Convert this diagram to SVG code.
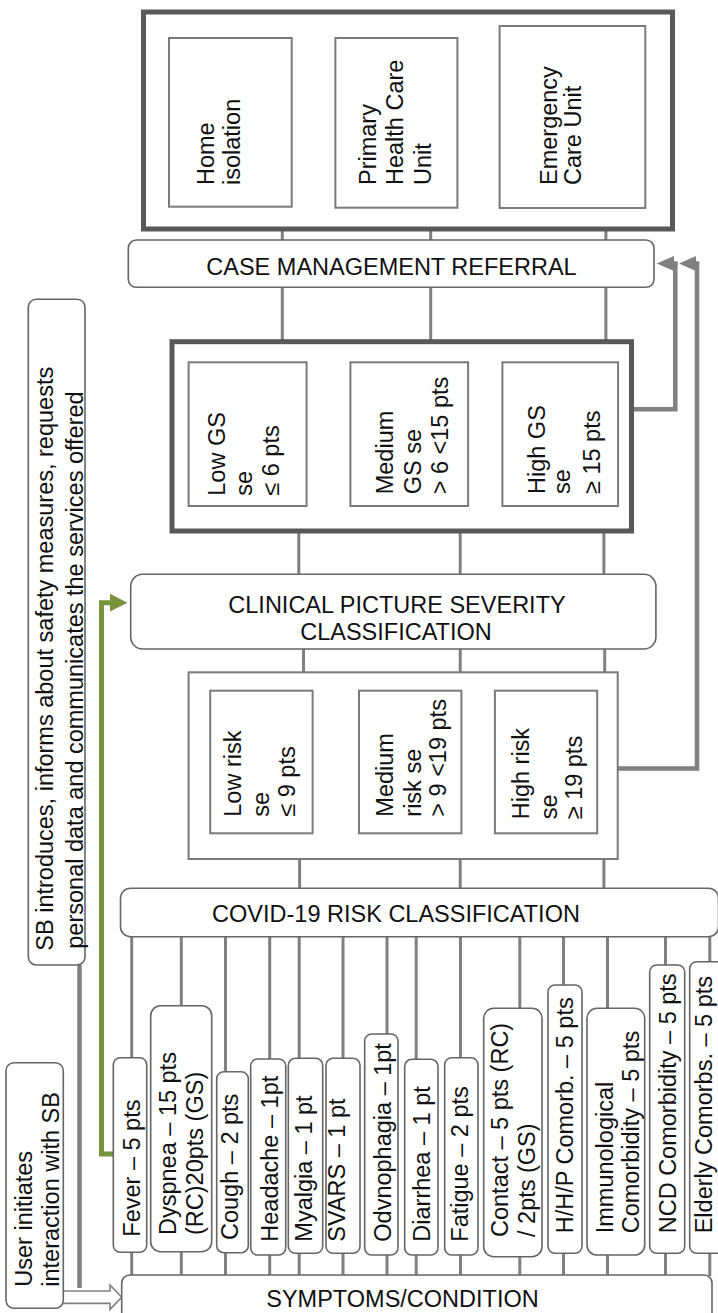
<svg xmlns="http://www.w3.org/2000/svg" width="718" height="1313" viewBox="0 0 718 1313">
<style>
text{font-family:"Liberation Sans",Arial,sans-serif;font-size:23.5px;fill:#111;}
.c{text-anchor:middle;}
.thick{fill:#fff;stroke:#595959;stroke-width:5;}
.inner{fill:#fff;stroke:#7a7a7a;stroke-width:2;}
.node{fill:#fff;stroke:#666;stroke-width:1.6;}
.ln{stroke:#808080;stroke-width:3;fill:none;}
.big{stroke:#808080;stroke-width:4.5;fill:none;}
.green{stroke:#77933C;stroke-width:5;fill:none;}
</style>
<rect width="718" height="1313" fill="#fff"/>
<g id="connectors">
  <path class="ln" d="M282.3 229V342M430.7 229V342M605.9 229V342"/>
  <path class="ln" d="M298.8 531V575M460.2 531V575M603.9 531V575"/>
  <path class="ln" d="M303.5 649V673M460.2 649V673M604.7 649V673"/>
  <path class="ln" d="M299.6 859V889M460.2 859V889M603.9 859V889"/>
  <path class="ln" d="M131.7 937V1276M181.3 937V1276M225.5 937V1276M269.7 937V1276M299.2 937V1276M343 937V1276M387 937V1276M416.2 937V1276M460.5 937V1276M519.8 937V1276M563.5 937V1276M607.5 937V1276M665.5 937V1276M709.8 937V1276"/>
  <path class="big" d="M631.5 409.3H675.3V262"/>
  <path class="big" d="M617.7 768.5H697V262"/>
  <path class="big" d="M670 263.5H677.5M692 263.5H699.2"/>
  <polygon points="656.7,263.5 674,256 674,271" fill="#808080"/>
  <polygon points="679,263.5 696,256 696,271" fill="#808080"/>
  <path class="green" d="M113.3 1154H101.5V602.7H112"/>
  <polygon points="127.5,602.7 110,593.8 110,611.6" fill="#77933C"/>
  <path class="big" d="M79.5 965V1288"/>
  <path d="M63.3 1291H110V1285L121.7 1297.2L110 1309.4V1303.4H63.3" fill="#fff" stroke="#808080" stroke-width="1.6"/>
</g>
<g id="referral-destinations">
  <rect class="thick" x="143.5" y="12" width="529" height="217"/>
  <rect class="inner" x="169" y="38" width="122.7" height="168.7"/>
  <rect class="inner" x="335.4" y="38" width="122" height="169.7"/>
  <rect class="inner" x="499.6" y="26" width="145.7" height="182"/>
  <text transform="translate(214,185) rotate(-90)"><tspan x="0" y="0">Home</tspan><tspan x="0" y="25.8">isolation</tspan></text>
  <text transform="translate(375.6,185) rotate(-90)"><tspan x="0" y="0">Primary</tspan><tspan x="0" y="27.4">Health Care</tspan><tspan x="0" y="55.1">Unit</tspan></text>
  <text transform="translate(556.7,185) rotate(-90)"><tspan x="0" y="0">Emergency</tspan><tspan x="0" y="24.4">Care Unit</tspan></text>
</g>
<g id="case-management">
  <rect class="node" x="128.3" y="240" width="525.7" height="47.3" rx="8"/>
  <text class="c" x="391.5" y="275">CASE MANAGEMENT REFERRAL</text>
</g>
<g id="gs-levels">
  <rect class="thick" x="172" y="341.7" width="459.5" height="189.3"/>
  <rect class="inner" x="188.6" y="362.3" width="118" height="143.7"/>
  <rect class="inner" x="350.4" y="362.3" width="117.7" height="143.7"/>
  <rect class="inner" x="502.4" y="362.3" width="115.7" height="143.7"/>
  <text transform="translate(225.2,495.7) rotate(-90)"><tspan x="0" y="0">Low GS</tspan><tspan x="0" y="26.4">se</tspan><tspan x="0" y="53.9">≤ 6 pts</tspan></text>
  <text transform="translate(393.3,494.3) rotate(-90)"><tspan x="0" y="0">Medium</tspan><tspan x="0" y="27.6">GS se</tspan><tspan x="0" y="55.1">&gt; 6 &lt;15 pts</tspan></text>
  <text transform="translate(544.9,494) rotate(-90)"><tspan x="0" y="0">High GS</tspan><tspan x="0" y="25.6">se</tspan><tspan x="0" y="55.1">≥ 15 pts</tspan></text>
</g>
<g id="clinical-severity">
  <rect class="node" x="130.7" y="574.3" width="525.2" height="74.7" rx="12"/>
  <text class="c" x="397" y="612.7">CLINICAL PICTURE SEVERITY</text>
  <text class="c" x="396" y="640">CLASSIFICATION</text>
</g>
<g id="risk-levels">
  <rect class="inner" x="188.6" y="672.3" width="429.1" height="186.7"/>
  <rect class="inner" x="210.2" y="690.7" width="102.4" height="142.6"/>
  <rect class="inner" x="359" y="690.7" width="102.4" height="142.6"/>
  <rect class="inner" x="494.9" y="690.7" width="102.3" height="142.6"/>
  <text transform="translate(240.9,816.7) rotate(-90)"><tspan x="0" y="0">Low risk</tspan><tspan x="0" y="28.4">se</tspan><tspan x="0" y="54">≤ 9 pts</tspan></text>
  <text transform="translate(393.3,816.7) rotate(-90)"><tspan x="0" y="0">Medium</tspan><tspan x="0" y="27.6">risk se</tspan><tspan x="0" y="53.2">&gt; 9 &lt;19 pts</tspan></text>
  <text transform="translate(529.1,819.3) rotate(-90)"><tspan x="0" y="0">High risk</tspan><tspan x="0" y="27.6">se</tspan><tspan x="0" y="53.2">≥ 19 pts</tspan></text>
</g>
<g id="covid-risk">
  <rect class="node" x="120.5" y="888.3" width="598" height="48.4" rx="10"/>
  <text class="c" x="396" y="921.7">COVID-19 RISK CLASSIFICATION</text>
</g>
<g id="sb-intro">
  <rect class="node" x="28.3" y="299.2" width="56.7" height="665.8" rx="8"/>
  <text transform="translate(53.4,950.7) rotate(-90)"><tspan x="0" y="0">SB introduces, informs about safety measures, requests</tspan><tspan x="2" y="30">personal data and communicates the services offered</tspan></text>
</g>
<g id="user-start">
  <rect class="node" x="6" y="1062.7" width="57.3" height="245.6" rx="8"/>
  <text transform="translate(31.7,1286.7) rotate(-90)"><tspan x="0" y="0">User initiates</tspan><tspan x="0" y="27.6">interaction with SB</tspan></text>
</g>
<g id="sym-fever">
  <rect class="node" x="113.3" y="1057.7" width="33.4" height="194.6" rx="7"/>
  <text transform="translate(140,1236.7) rotate(-90)">Fever – 5 pts</text>
</g>
<g id="sym-dyspnea">
  <rect class="node" x="150.7" y="1005.7" width="61" height="246" rx="10"/>
  <text transform="translate(175.7,1235) rotate(-90)"><tspan x="0" y="0">Dyspnea – 15 pts</tspan><tspan x="0" y="27.6">(RC)20pts (GS)</tspan></text>
</g>
<g id="sym-cough">
  <rect class="node" x="216.7" y="1071.7" width="31.6" height="181" rx="7"/>
  <text transform="translate(238.3,1240) rotate(-90)">Cough – 2 pts</text>
</g>
<g id="sym-headache">
  <rect class="node" x="250.7" y="1059" width="35" height="196" rx="7"/>
  <text transform="translate(278.3,1241.7) rotate(-90)">Headache – 1pt</text>
</g>
<g id="sym-myalgia">
  <rect class="node" x="288.3" y="1058.3" width="34.4" height="195" rx="7"/>
  <text transform="translate(311.7,1241.7) rotate(-90)">Myalgia  – 1 pt</text>
</g>
<g id="sym-svars">
  <rect class="node" x="326" y="1058.3" width="34" height="195" rx="7"/>
  <text transform="translate(345,1241.7) rotate(-90)">SVARS – 1 pt</text>
</g>
<g id="sym-odvnophagia">
  <rect class="node" x="364.7" y="1034" width="33.3" height="221" rx="7"/>
  <text transform="translate(391.3,1241.7) rotate(-90)">Odvnophagia – 1pt</text>
</g>
<g id="sym-diarrhea">
  <rect class="node" x="404.7" y="1059.3" width="33.3" height="195.7" rx="7"/>
  <text transform="translate(429.7,1241.7) rotate(-90)">Diarrhea – 1 pt</text>
</g>
<g id="sym-fatigue">
  <rect class="node" x="444.7" y="1057.7" width="33.3" height="197.3" rx="7"/>
  <text transform="translate(468,1241.7) rotate(-90)">Fatigue – 2 pts</text>
</g>
<g id="sym-contact">
  <rect class="node" x="483.7" y="1008.3" width="58.3" height="248.4" rx="10"/>
  <text transform="translate(508,1237) rotate(-90)"><tspan x="0" y="0">Contact – 5 pts (RC)</tspan><tspan x="0" y="27">/ 2pts (GS)</tspan></text>
</g>
<g id="sym-hhp">
  <rect class="node" x="548" y="985" width="34" height="268.3" rx="7"/>
  <text transform="translate(573,1233.3) rotate(-90)">H/H/P Comorb. – 5 pts</text>
</g>
<g id="sym-immunological">
  <rect class="node" x="587" y="1008.3" width="57.7" height="246.7" rx="10"/>
  <text transform="translate(613,1233.3) rotate(-90)"><tspan x="0" y="0">Immunological</tspan><tspan x="0" y="25.7">Comorbidity – 5 pts</tspan></text>
</g>
<g id="sym-ncd">
  <rect class="node" x="649.7" y="965" width="35" height="288.3" rx="7"/>
  <text transform="translate(676.3,1233.3) rotate(-90)">NCD Comorbidity – 5 pts</text>
</g>
<g id="sym-elderly">
  <rect class="node" x="689.7" y="961.7" width="35" height="291.6" rx="7"/>
  <text transform="translate(712.3,1233.3) rotate(-90)">Elderly Comorbs. – 5 pts</text>
</g>
<g id="symptoms-condition">
  <rect class="node" x="121.7" y="1275" width="590.3" height="60" rx="8"/>
  <text class="c" x="402.5" y="1306.7">SYMPTOMS/CONDITION</text>
</g>
</svg>
